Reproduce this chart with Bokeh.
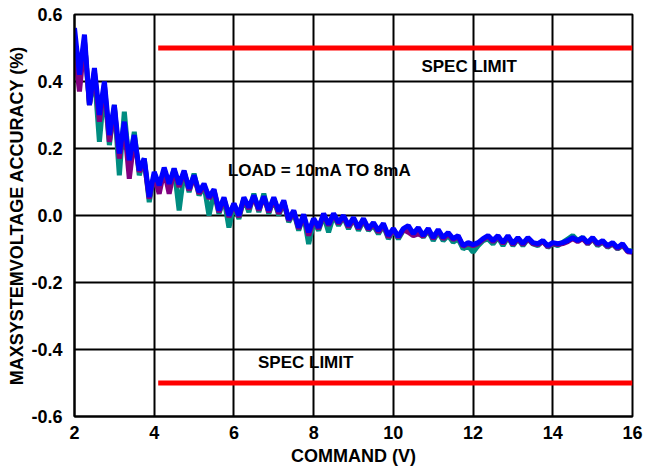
import numpy as np
from bokeh.plotting import figure
from bokeh.models import FixedTicker, NumeralTickFormatter, Range1d
from bokeh.core.properties import value
from bokeh.embed import file_html
from bokeh.resources import INLINE

# Command voltage steps (V)
command_start = 2.0
command_step = 0.125

blue = [
    0.56, 0.42, 0.54, 0.33, 0.44, 0.30, 0.40, 0.24, 0.33, 0.185,
    0.28, 0.165, 0.24, 0.135, 0.17, 0.055, 0.13, 0.09, 0.143, 0.095,
    0.14, 0.093, 0.134, 0.08, 0.12, 0.07, 0.095, 0.054, 0.078, 0.015,
    0.054, 0.0, 0.036, 0.0, 0.054, 0.024, 0.06, 0.02, 0.057, 0.015,
    0.054, 0.012, 0.045, -0.012, 0.015, -0.036, 0.003, -0.05, -0.009, -0.036,
    0.006, -0.027, 0.006, -0.021, 0.0, -0.03, -0.006, -0.036, -0.009, -0.039,
    -0.021, -0.045, -0.024, -0.06, -0.039, -0.063, -0.039, -0.03, -0.054, -0.036,
    -0.06, -0.039, -0.066, -0.042, -0.066, -0.051, -0.069, -0.06, -0.09, -0.081,
    -0.087, -0.081, -0.069, -0.06, -0.075, -0.06, -0.081, -0.06, -0.084, -0.066,
    -0.084, -0.066, -0.081, -0.084, -0.075, -0.09, -0.081, -0.084, -0.081, -0.075,
    -0.066, -0.075, -0.066, -0.081, -0.066, -0.084, -0.075, -0.09, -0.081, -0.096,
    -0.084, -0.105, -0.108,
]

teal = [
    0.53, 0.42, 0.52, 0.33, 0.42, 0.22, 0.38, 0.21, 0.33, 0.12,
    0.31, 0.15, 0.25, 0.12, 0.17, 0.04, 0.12, 0.08, 0.13, 0.08,
    0.14, 0.015, 0.13, 0.07, 0.125, 0.06, 0.09, 0.0, 0.07, 0.005,
    0.05, -0.036, 0.03, -0.01, 0.05, 0.01, 0.065, 0.01, 0.065, 0.005,
    0.05, 0.0, 0.04, -0.02, 0.01, -0.045, 0.0, -0.085, -0.02, -0.045,
    0.0, -0.05, 0.0, -0.03, -0.005, -0.04, -0.01, -0.045, -0.015, -0.045,
    -0.03, -0.055, -0.03, -0.07, -0.045, -0.07, -0.045, -0.04, -0.06, -0.045,
    -0.065, -0.045, -0.075, -0.05, -0.075, -0.06, -0.08, -0.07, -0.1, -0.09,
    -0.11, -0.09, -0.075, -0.07, -0.085, -0.065, -0.09, -0.065, -0.09, -0.07,
    -0.09, -0.07, -0.085, -0.09, -0.075, -0.095, -0.085, -0.09, -0.08, -0.07,
    -0.06, -0.075, -0.065, -0.085, -0.07, -0.09, -0.08, -0.095, -0.085, -0.1,
    -0.09, -0.105, -0.105,
]

purple = [
    0.50, 0.37, 0.52, 0.33, 0.43, 0.28, 0.39, 0.22, 0.32, 0.17,
    0.27, 0.11, 0.23, 0.13, 0.16, 0.05, 0.12, 0.065, 0.135, 0.065,
    0.135, 0.085, 0.13, 0.075, 0.115, 0.065, 0.09, 0.05, 0.075, 0.01,
    0.05, -0.005, 0.035, -0.005, 0.05, 0.02, 0.055, 0.015, 0.055, 0.01,
    0.05, 0.005, 0.04, -0.015, 0.012, -0.04, 0.0, -0.06, -0.012, -0.04,
    0.003, -0.03, 0.003, -0.025, -0.003, -0.035, -0.01, -0.04, -0.012, -0.042,
    -0.025, -0.05, -0.028, -0.065, -0.042, -0.065, -0.042, -0.05, -0.06, -0.055,
    -0.062, -0.042, -0.07, -0.045, -0.07, -0.055, -0.072, -0.063, -0.092, -0.084,
    -0.09, -0.084, -0.072, -0.063, -0.078, -0.063, -0.084, -0.063, -0.087, -0.069,
    -0.087, -0.069, -0.084, -0.087, -0.078, -0.093, -0.084, -0.087, -0.084, -0.078,
    -0.069, -0.078, -0.069, -0.084, -0.069, -0.087, -0.078, -0.093, -0.084, -0.099,
    -0.087, -0.108, -0.11,
]

spec_x = [4.1, 16.0]
spec_upper = 0.5
spec_lower = -0.5

x_ticks = [2, 4, 6, 8, 10, 12, 14, 16]
y_ticks = [-0.6, -0.4, -0.2, 0.0, 0.2, 0.4, 0.6]

FONT = "Liberation Sans"


def xs(series):
    return [command_start + command_step * i for i in range(len(series))]


p = figure(width=656, height=470, output_backend="svg", toolbar_location=None,
           x_range=Range1d(2, 16), y_range=Range1d(-0.6, 0.6),
           min_border_left=74, min_border_right=24, min_border_top=14,
           min_border_bottom=54)

p.outline_line_color = "black"
p.outline_line_width = 2
p.background_fill_color = "white"
p.border_fill_color = "white"

for g in (p.xgrid, p.ygrid):
    g.grid_line_color = "black"
    g.grid_line_width = 2
p.xgrid.ticker = FixedTicker(ticks=x_ticks)
p.ygrid.ticker = FixedTicker(ticks=y_ticks)

p.xaxis.ticker = FixedTicker(ticks=x_ticks)
p.yaxis.ticker = FixedTicker(ticks=y_ticks)
p.yaxis.formatter = NumeralTickFormatter(format="0.0")
for ax in (p.xaxis, p.yaxis):
    ax.axis_line_color = "black"
    ax.axis_line_width = 2
    ax.major_tick_line_color = None
    ax.minor_tick_line_color = None
    ax.major_label_text_font = FONT
    ax.major_label_text_font_style = "bold"
    ax.major_label_text_font_size = "18px"
    ax.major_label_text_color = "black"
    ax.axis_label_text_font = FONT
    ax.axis_label_text_font_style = "bold"
    ax.axis_label_text_font_size = "18px"
    ax.axis_label_text_color = "black"
p.xaxis.axis_label = "COMMAND (V)"
p.yaxis.axis_label = "MAXSYSTEMVOLTAGE ACCURACY (%)"
p.xaxis.major_label_standoff = 3
p.yaxis.major_label_standoff = 6
p.xaxis.axis_label_standoff = 4
p.yaxis.axis_label_standoff = 1

p.line(xs(teal), teal, line_color="#008C80", line_width=5)
p.line(xs(purple), purple, line_color="#800080", line_width=5)
p.line(xs(blue), blue, line_color="#0000FF", line_width=5)

p.line(spec_x, [spec_upper, spec_upper], line_color="#FF0000", line_width=5)
p.line(spec_x, [spec_lower, spec_lower], line_color="#FF0000", line_width=5)

p.text(x=[11.9, 7.8, 8.15], y=[0.445, -0.44, 0.135],
       text=["SPEC LIMIT", "SPEC LIMIT", "LOAD = 10mA TO 8mA"],
       text_font=value(FONT), text_font_style="bold", text_font_size="17px",
       text_align="center", text_baseline="middle", text_color="black")

open("out.html", "w").write(file_html(p, INLINE))
